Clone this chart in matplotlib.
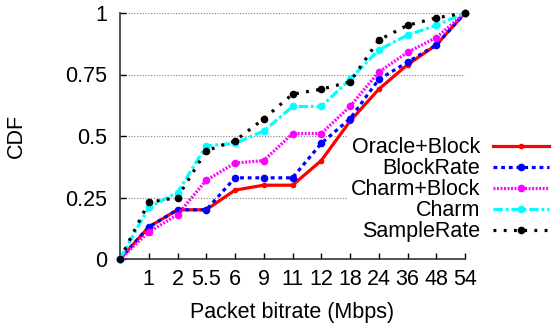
import matplotlib
matplotlib.use("Agg")
import matplotlib.pyplot as plt

plt.rcParams['font.family'] = ['Liberation Sans', 'DejaVu Sans']

# x categories (first point has no label)
bitrates = ['', '1', '2', '5.5', '6', '9', '11', '12', '18', '24', '36', '48', '54']

oracle_block = [0, 0.13, 0.20, 0.20, 0.28, 0.30, 0.30, 0.40, 0.56, 0.69, 0.79, 0.87, 1.0]
block_rate   = [0, 0.13, 0.20, 0.20, 0.33, 0.33, 0.33, 0.47, 0.57, 0.73, 0.80, 0.87, 1.0]
charm_block  = [0, 0.11, 0.18, 0.32, 0.39, 0.40, 0.51, 0.51, 0.62, 0.76, 0.84, 0.90, 1.0]
charm        = [0, 0.21, 0.27, 0.46, 0.47, 0.52, 0.62, 0.62, 0.73, 0.85, 0.91, 0.95, 1.0]
sample_rate  = [0, 0.23, 0.25, 0.44, 0.48, 0.57, 0.67, 0.69, 0.72, 0.89, 0.95, 0.98, 1.0]

# label, values, colour, dash pattern, marker size
series = [
    ('Oracle+Block', oracle_block, 'red', '-', 3),
    ('BlockRate', block_rate, 'blue', (0, (1.2, 1.2)), 4.5),
    ('Charm+Block', charm_block, 'magenta', (0, (0.6, 0.5)), 4.5),
    ('Charm', charm, 'cyan', (0, (2.9, 0.9, 0.9, 0.9)), 4.5),
    ('SampleRate', sample_rate, 'black', (0, (0.9, 2.3)), 4.5),
]

FS = 15.5

fig = plt.figure(figsize=(5.56, 3.28), dpi=100)
ax = fig.add_axes([120 / 556, 1 - 259 / 328, 345 / 556, 246 / 328])

x = list(range(len(bitrates)))
for label, ys, color, ls, ms in series:
    ax.plot(x, ys, color=color, linestyle=ls, linewidth=2.3, marker='o',
            markersize=ms, label=label, clip_on=False, zorder=3)

ax.set_xlim(0, len(bitrates) - 1)
ax.set_ylim(0, 1)
ax.set_xticks(x)
ax.set_xticklabels(bitrates, fontsize=FS)
ax.set_yticks([0, 0.25, 0.5, 0.75, 1])
ax.set_yticklabels(['0', '0.25', '0.5', '0.75', '1'], fontsize=FS)
ax.tick_params(direction='in', length=4, width=1)
ax.tick_params(axis='x', pad=7)
ax.tick_params(axis='y', pad=9)
ax.yaxis.grid(True, linestyle=(0, (1, 1.5)), color='gray', linewidth=0.8)
ax.set_axisbelow(True)
for s in ['top', 'right']:
    ax.spines[s].set_visible(False)
for s in ['left', 'bottom']:
    ax.spines[s].set_linewidth(1.2)
    ax.spines[s].set_color('#333333')

ax.set_xlabel('Packet bitrate (Mbps)', fontsize=FS)
ax.xaxis.set_label_coords(0.5, -0.175)
ax.set_ylabel('CDF', fontsize=FS)
ax.yaxis.set_label_coords(-0.27, 0.5)

leg = fig.legend(loc='upper right', bbox_to_anchor=(552 / 556, 1 - 134 / 328),
                 markerfirst=False, frameon=True, fontsize=FS,
                 handlelength=2.6, handletextpad=0.6, labelspacing=0.0,
                 borderpad=0.15, borderaxespad=0, fancybox=False)
leg.get_frame().set_edgecolor('none')
leg.get_frame().set_facecolor('white')
leg.get_frame().set_alpha(1)
leg.set_zorder(2.5)

fig.savefig('out.png', dpi=100)
